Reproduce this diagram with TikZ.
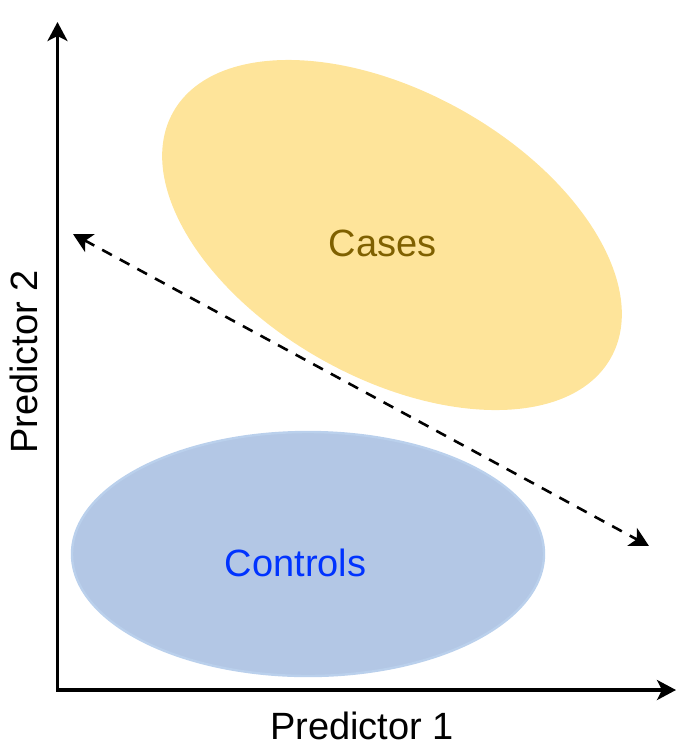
\documentclass[tikz,border=0pt]{standalone}
\usepackage{fontspec}
\setmainfont{Liberation Sans}
\usetikzlibrary{arrows.meta,shapes.geometric}
\definecolor{casesyellow}{RGB}{254, 228, 154}
\definecolor{casesbrown}{RGB}{127, 96, 0}
\definecolor{controlsblue}{RGB}{179, 199, 229}
\definecolor{controlsedge}{RGB}{186, 208, 236}
\definecolor{controlstext}{RGB}{0, 51, 255}
\tikzset{
  >={Stealth[length=9.5pt,width=10pt,inset=2.5pt]},
  axisline/.style={line width=1.6pt,black,<->},
  splitline/.style={line width=1.3pt,black,dash pattern=on 5.5pt off 4.5pt,<->},
  blob/.style={ellipse,inner sep=0pt},
  labeltext/.style={font=\fontsize{19}{23}\selectfont}
}

\begin{document}
\begin{tikzpicture}[x=0.5pt,y=-0.5pt]
        \useasboundingbox (0,0) rectangle (691,752);

        % groups
        \node[blob,fill=casesyellow,minimum width=251pt,minimum height=143pt,rotate=-29.3] (cases) at (392,235) {};
        \node[labeltext,text=casesbrown] (caseslabel) at (382.5,243) {Cases};

        \node[blob,fill=controlsblue,draw=controlsedge,line width=1.2pt,minimum width=236pt,minimum height=122pt] (controls) at (308,554) {};
        \node[labeltext,text=controlstext] (controlslabel) at (295.5,563) {Controls};

        % axes
        \coordinate (origin) at (57.5,690);
        \coordinate (ytip) at (57.5,22);
        \coordinate (xtip) at (676,690);
        \draw[axisline] (ytip) -- (origin) -- (xtip);
        \node[labeltext] (xlabel) at (362,726) {Predictor 1};
        \node[labeltext,rotate=90] (ylabel) at (24,362) {Predictor 2};

        % separating direction
        \coordinate (splitstart) at (73,234);
        \coordinate (splitend) at (649,546);
        \draw[splitline] (splitstart) -- (splitend);
    \end{tikzpicture}
\end{document}
